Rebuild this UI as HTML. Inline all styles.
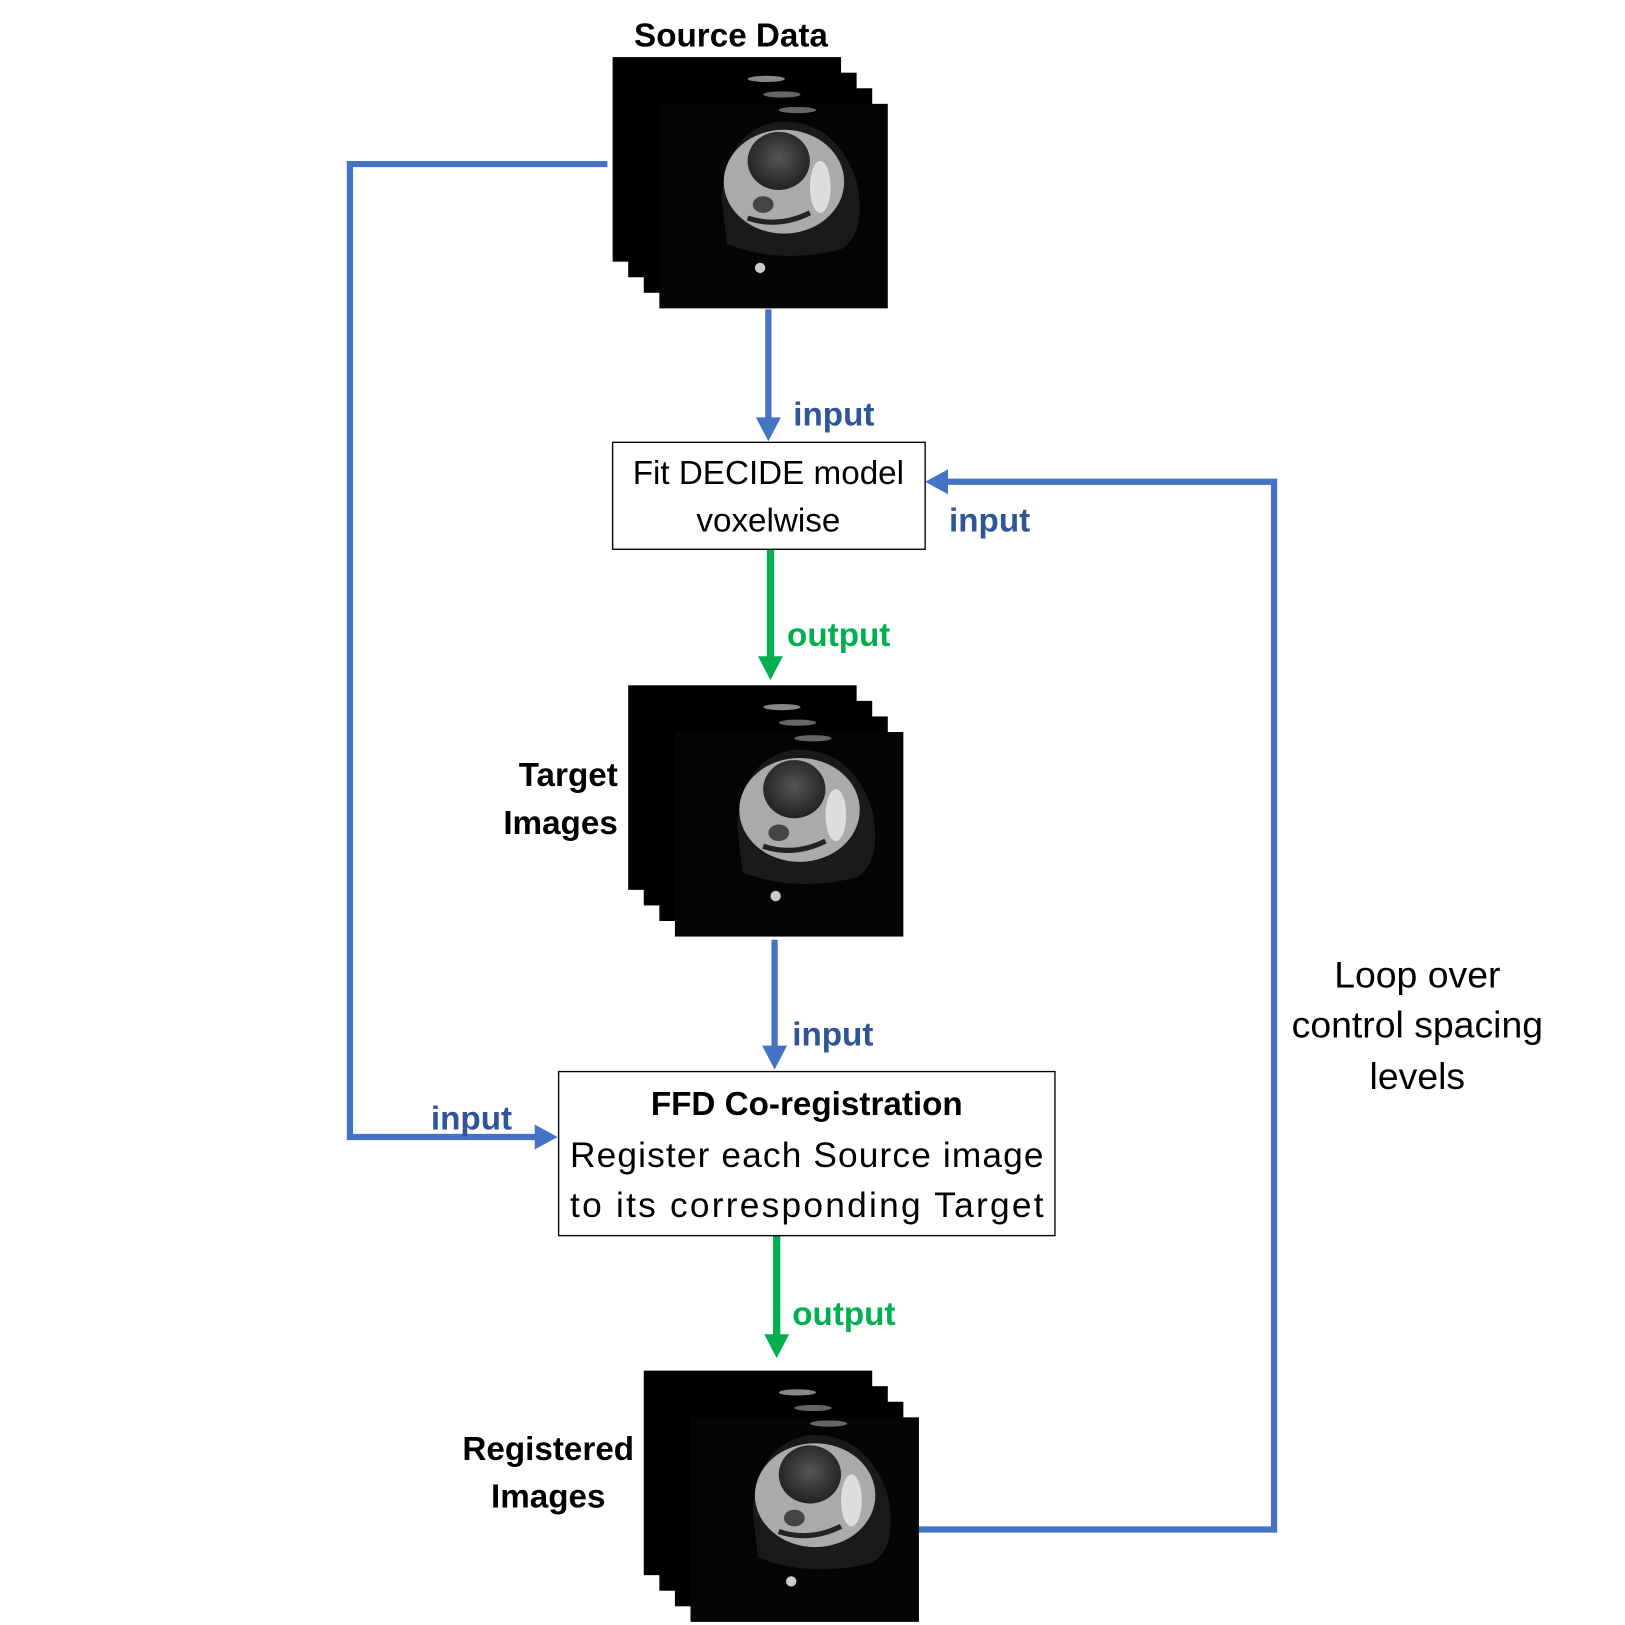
<!DOCTYPE html>
<html><head><style>body{margin:0;background:#fff}svg{display:block}</style></head><body>
<svg width="1625" height="1625" viewBox="0 0 1565 1565" xmlns="http://www.w3.org/2000/svg" font-family="Liberation Sans, sans-serif">
<defs>
<radialGradient id="g1" cx="50%" cy="45%" r="55%"><stop offset="0" stop-color="#555"/><stop offset="1" stop-color="#222"/></radialGradient>
<g id="stack">
<rect x="0" y="0" width="220" height="197" fill="#000"/>
<rect x="15" y="15" width="220" height="197" fill="#000"/>
<rect x="30" y="30" width="220" height="197" fill="#000"/>
<rect x="45" y="45" width="220" height="197" fill="#050505"/>
<ellipse cx="148" cy="21" rx="18" ry="3" fill="#888"/>
<ellipse cx="163" cy="36" rx="18" ry="3" fill="#666"/>
<ellipse cx="178" cy="51" rx="18" ry="3" fill="#666"/>
<path d="M105 135 Q110 70 160 62 Q215 60 235 120 Q245 170 220 185 Q160 200 110 180 Z" fill="#1a1a1a"/>
<ellipse cx="165" cy="120" rx="58" ry="50" fill="#aaa"/>
<ellipse cx="160" cy="100" rx="30" ry="28" fill="url(#g1)"/>
<ellipse cx="145" cy="142" rx="10" ry="8" fill="#444"/>
<path d="M130 155 Q160 165 190 150" stroke="#222" stroke-width="5" fill="none"/>
<ellipse cx="200" cy="125" rx="10" ry="25" fill="#ddd"/>
<circle cx="142" cy="203" r="5" fill="#ccc"/>
</g>
</defs>
<g fill="none" stroke="#4472C4" stroke-width="6">
<polyline points="585,158 337,158 337,1095 520,1095"/>
<line x1="740" y1="298" x2="740" y2="405"/>
<line x1="746" y1="905" x2="746" y2="1010"/>
<polyline points="885,1473 1227,1473 1227,464 910,464"/>
</g>
<g fill="#4472C4">
<polygon points="728,402 752,402 740,425"/>
<polygon points="734,1007 758,1007 746,1030"/>
<polygon points="515,1083 515,1107 537,1095"/>
<polygon points="913,452 913,476 891,464"/>
</g>
<g stroke="#00B050" stroke-width="7"><line x1="742" y1="529" x2="742" y2="635"/><line x1="748" y1="1183" x2="748" y2="1288"/></g>
<g fill="#00B050"><polygon points="730,632 754,632 742,655"/><polygon points="736,1285 760,1285 748,1308"/></g>
<use href="#stack" x="590" y="55"/>
<use href="#stack" x="605" y="660"/>
<use href="#stack" x="620" y="1320"/>
<rect x="590" y="426" width="301" height="103" fill="#fff" stroke="#000" stroke-width="1.3"/>
<rect x="538" y="1032" width="478" height="158" fill="#fff" stroke="#000" stroke-width="1.3"/>
<g font-size="32">
<text x="704" y="45" text-anchor="middle" font-weight="bold">Source Data</text>
<text x="740" y="466" text-anchor="middle">Fit DECIDE model</text>
<text x="740" y="512" text-anchor="middle">voxelwise</text>
<text x="595" y="757" text-anchor="end" font-weight="bold">Target</text>
<text x="595" y="803" text-anchor="end" font-weight="bold">Images</text>
<text x="777" y="1074" text-anchor="middle" font-weight="bold">FFD Co-registration</text>
<text x="528" y="1406" text-anchor="middle" font-weight="bold">Registered</text>
<text x="528" y="1452" text-anchor="middle" font-weight="bold">Images</text>
</g>
<g font-size="34">
<text x="549" y="1124" textLength="456">Register each Source image</text>
<text x="549" y="1172" textLength="456">to  its corresponding Target</text>
</g>
<g font-size="32" font-weight="bold" fill="#2F5597">
<text x="764" y="410">input</text>
<text x="914" y="512">input</text>
<text x="763" y="1007">input</text>
<text x="415" y="1088">input</text>
</g>
<g font-size="32" font-weight="bold" fill="#00B050">
<text x="758" y="622">output</text>
<text x="763" y="1276">output</text>
</g>
<g font-size="36" text-anchor="middle">
<text x="1365" y="951">Loop over</text>
<text x="1365" y="999">control spacing</text>
<text x="1365" y="1049">levels</text>
</g>
</svg>
</body></html>
